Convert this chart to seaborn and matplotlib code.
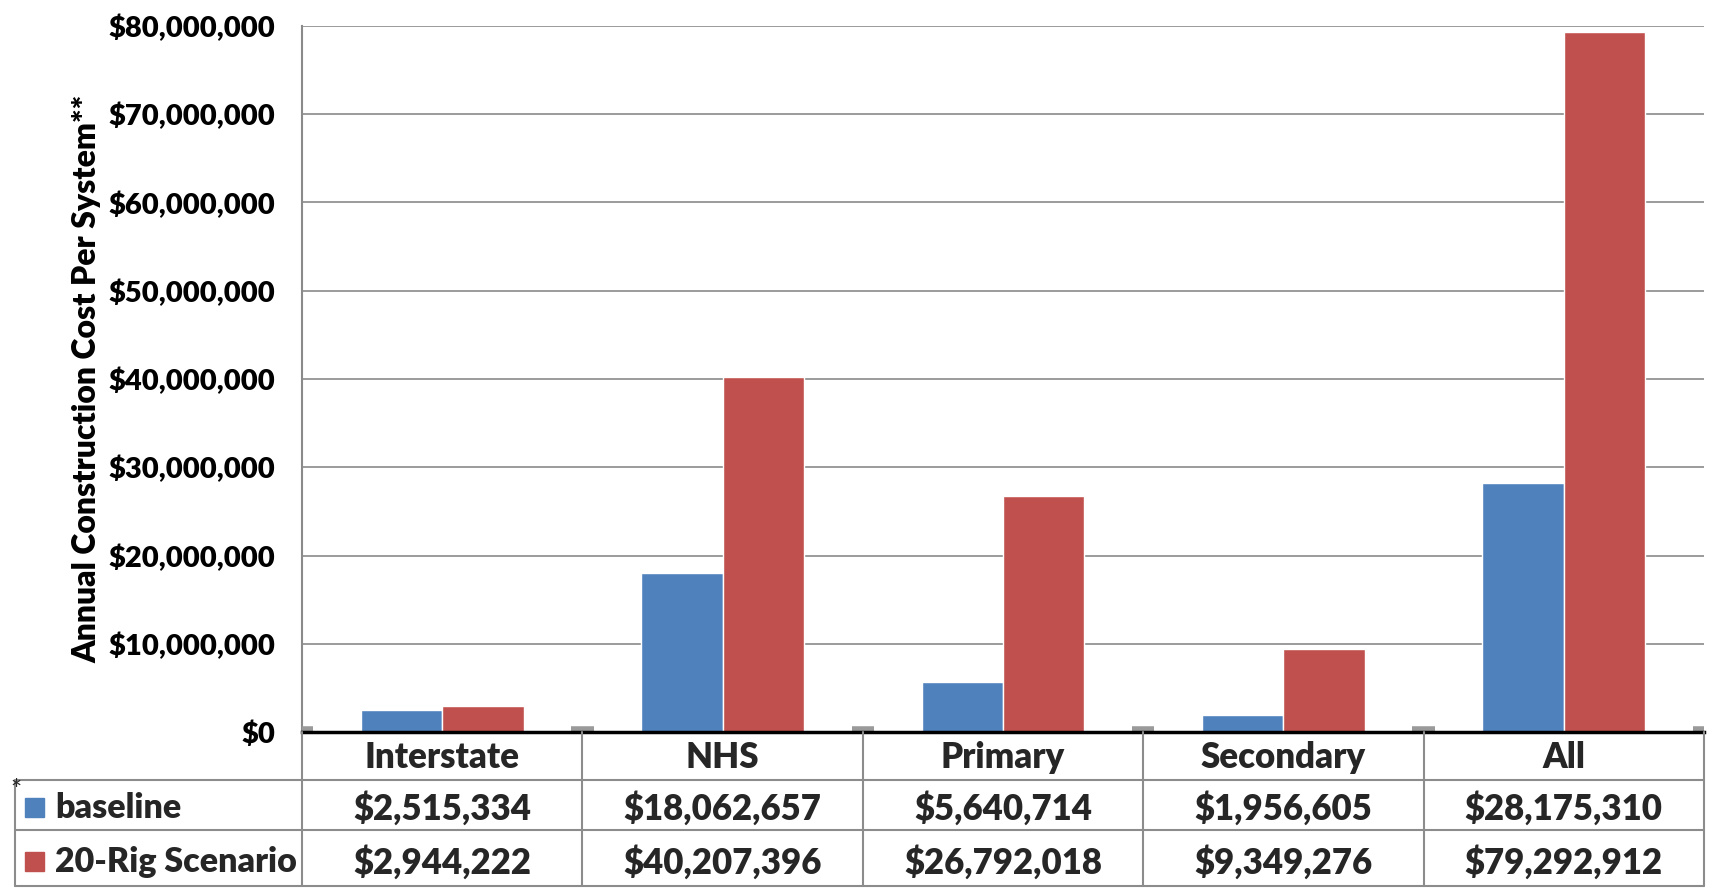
import pandas as pd
import matplotlib.pyplot as plt
import matplotlib.transforms as mtransforms
from matplotlib.lines import Line2D
from matplotlib.patches import Rectangle
from matplotlib.ticker import FuncFormatter
import seaborn as sns

# Datos
systems = ["Interstate", "NHS", "Primary", "Secondary", "All"]
series_names = ["baseline", "20-Rig Scenario"]
baseline = [2515334, 18062657, 5640714, 1956605, 28175310]
rig20 = [2944222, 40207396, 26792018, 9349276, 79292912]
colors = ["#4F81BD", "#C0504D"]
y_ticks = [0, 10e6, 20e6, 30e6, 40e6, 50e6, 60e6, 70e6, 80e6]

df = pd.DataFrame({
    "system": systems * 2,
    "series": [series_names[0]] * 5 + [series_names[1]] * 5,
    "cost": baseline + rig20,
})

sns.set_theme(style="white")
plt.rcParams["font.family"] = ["Lato", "DejaVu Sans"]
WT = "heavy"
plt.rcParams["font.weight"] = WT
plt.rcParams["axes.labelweight"] = WT

W, H = 1723, 888
fig = plt.figure(figsize=(W / 100, H / 100), dpi=100)

left, right, top, zero = 302, 1704, 26, 732
ax = fig.add_axes([left / W, 1 - zero / H, (right - left) / W, (zero - top) / H])

sns.barplot(data=df, x="system", y="cost", hue="series", palette=colors,
            width=0.58, saturation=1, ax=ax, legend=False, zorder=3)

ax.set_xlim(-0.5, 4.5)
ax.set_ylim(0, 80e6)
ax.set_yticks(y_ticks)
ax.yaxis.set_major_formatter(FuncFormatter(lambda v, p: "${:,.0f}".format(v)))
ax.tick_params(axis="y", length=0, pad=19, labelsize=21)
for t in ax.get_yticklabels():
    t.set_fontweight(WT)
    t.set_color("black")
ax.set_xticks([])
ax.set_xlabel("")
ax.set_ylabel("Annual Construction Cost Per System**", fontsize=23, fontweight=WT,
              color="black")
ax.yaxis.set_label_coords(-0.143, 0.5)
ax.grid(axis="y", color="#8a8a8a", linewidth=1.2, zorder=0)
for s in ["top", "right"]:
    ax.spines[s].set_visible(False)
ax.spines["left"].set_color("#8a8a8a")
ax.spines["left"].set_linewidth(1.5)
ax.spines["bottom"].set_color("black")
ax.spines["bottom"].set_linewidth(2.5)
ax.spines["bottom"].set_zorder(5)

# pequeñas marcas grises en los límites de categoría
for i in range(len(systems) + 1):
    ax.hlines(0.3e6, max(i - 0.5 - 0.04, -0.5), min(i - 0.5 + 0.04, 4.5), color="#9a9a9a",
              linewidth=4, clip_on=False, zorder=4)

# Tabla de datos debajo del gráfico
def fy(y):
    return 1 - y / H

def fx(x):
    return x / W

bt = mtransforms.blended_transform_factory(ax.transData, fig.transFigure)
grid_c = "#8c8c8c"
row1, row2, bottom = 780, 830, 886
tbl_left = 15
fs_tbl = 25

for xb in [left] + [left + (right - left) * (i + 1) / 5 for i in range(5)]:
    fig.add_artist(Line2D([fx(xb), fx(xb)], [fy(zero), fy(bottom)], color=grid_c, linewidth=1.5))
fig.add_artist(Line2D([fx(tbl_left), fx(tbl_left)], [fy(row1), fy(bottom)], color=grid_c, linewidth=1.5))
for yb in [row1, row2, bottom]:
    fig.add_artist(Line2D([fx(tbl_left), fx(right)], [fy(yb), fy(yb)], color=grid_c, linewidth=1.5))

for i, name in enumerate(systems):
    fig.text(i, fy((zero + row1) / 2 + 1), name, transform=bt, ha="center", va="center",
             fontsize=fs_tbl, fontweight=WT)
    fig.text(i, fy((row1 + row2) / 2 + 3), "${:,.0f}".format(baseline[i]), transform=bt,
             ha="center", va="center", fontsize=fs_tbl, fontweight=WT)
    fig.text(i, fy((row2 + bottom) / 2 + 4), "${:,.0f}".format(rig20[i]), transform=bt,
             ha="center", va="center", fontsize=fs_tbl, fontweight=WT)

for k, (name, c) in enumerate(zip(series_names, colors)):
    yc = (row1 + row2) / 2 + 3 if k == 0 else (row2 + bottom) / 2 + 4
    fig.add_artist(Rectangle((fx(25), fy(yc + 9)), 19 / W, 19 / H, color=c,
                             transform=fig.transFigure))
    fig.text(fx(55), fy(yc), name, ha="left", va="center", fontsize=24.5, fontweight=WT)

fig.text(fx(10), fy(779), "*", ha="left", va="top", fontsize=19, fontweight="normal")

plt.savefig("out.png", dpi=100)
